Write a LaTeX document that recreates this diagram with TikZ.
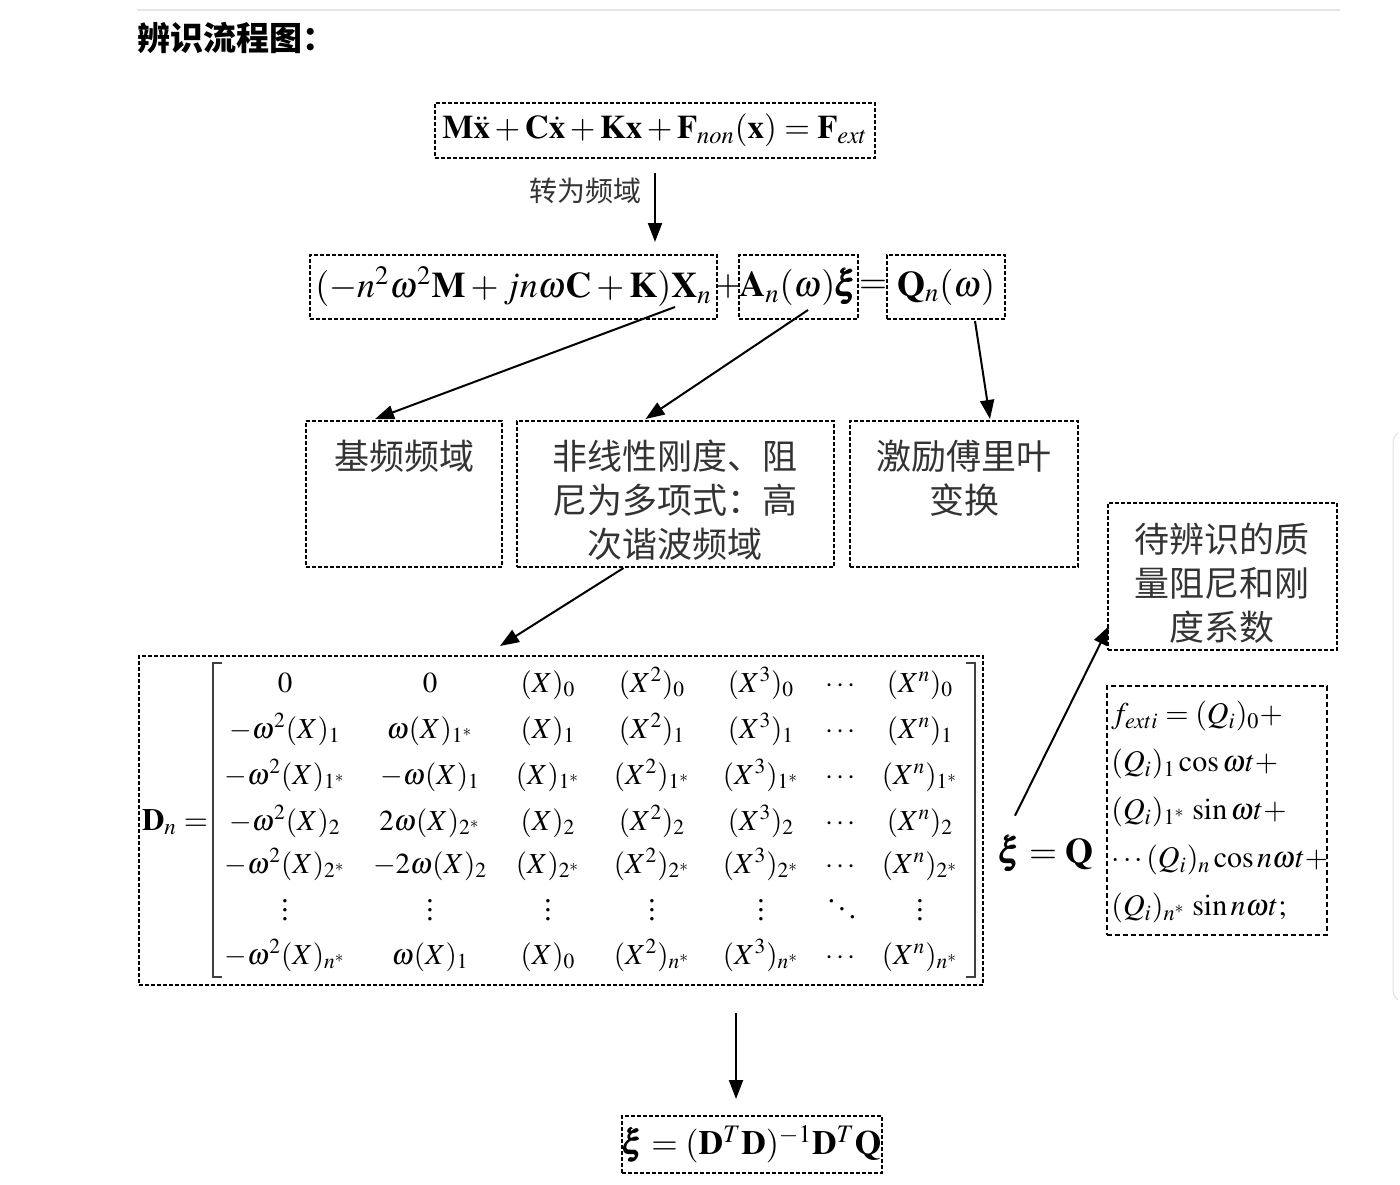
\documentclass[tikz,border=0pt]{standalone}
\usepackage{amsmath}
\usepackage{mathptmx}
\usepackage{fontspec}
\setmainfont{Liberation Serif}
\newfontfamily\cjk{Noto Sans CJK SC}
\usetikzlibrary{arrows.meta,calc}

\newcommand\mrow[8]{%
\node[anchor=base] (m#1-1) at (285,#1) {$#2$};
\node[anchor=base] (m#1-2) at (430,#1) {$#3$};
\node[anchor=base] (m#1-3) at (548,#1) {$#4$};
\node[anchor=base] (m#1-4) at (652,#1) {$#5$};
\node[anchor=base] (m#1-5) at (761,#1) {$#6$};
\node[anchor=base] (m#1-6) at (842,#1) {$#7$};
\node[anchor=base] (m#1-7) at (920,#1) {$#8$};}
\newcommand\vdts{\vbox{\baselineskip4.5pt\lineskiplimit0pt\hbox{.}\hbox{.}\hbox{.}}}
\newcommand\ddts{\mkern1mu\raisebox{9pt}{.}\mkern2mu\raisebox{5pt}{.}\mkern2mu\raisebox{1pt}{.}\mkern1mu}

\begin{document}
\begin{tikzpicture}[x=0.5pt,y=-0.5pt,
  dbox/.style={draw,line width=1pt,dash pattern=on 2pt off 1pt,inner sep=0pt},
  arr/.style={-{Triangle[length=9.5pt,width=7pt]},line width=1pt},
  zh/.style={font=\cjk\fontsize{17.5}{22}\selectfont,text=black!80,align=center},
  eq/.style={font=\fontsize{18}{22}\selectfont}]
\useasboundingbox (0,0) rectangle (1400,1184);
\draw[black!10,line width=0.6pt] (137,10) -- (1340,10);
\draw[black!12,line width=0.5pt,rounded corners=3pt] (1398,433) -- (1393,436) -- (1393,997) -- (1398,1000);

\node[anchor=west,inner sep=0pt,font=\cjk\bfseries\fontsize{16.5}{19}\selectfont] (title) at (137,38) {辨识流程图：};

\node[dbox,font=\fontsize{16.5}{20}\selectfont,minimum width=220pt,minimum height=27.5pt] (eqmotion) at (655,130)
  {$\mathbf{M}\ddot{\mathbf{x}}+\mathbf{C}\dot{\mathbf{x}}+\mathbf{K}\mathbf{x}+\mathbf{F}_{non}(\mathbf{x})=\mathbf{F}_{ext}$};
\node[font=\cjk\fontsize{14}{17}\selectfont,text=black!80] (tofreq) at (585,191) {转为频域};

\node[dbox,eq,minimum width=203.5pt,minimum height=32pt] (kxbox) at (513.5,287)
  {$(-n^2\omega^2\mathbf{M}+jn\omega\mathbf{C}+\mathbf{K})\mathbf{X}_n$};
\node[eq,inner sep=0pt] (plus) at (728,287) {$+$};
\node[dbox,eq,minimum width=59.5pt,minimum height=32pt] (anbox) at (798.5,287)
  {$\mathbf{A}_n(\omega)\pmb{\xi}$};
\node[eq,inner sep=0pt] (equal) at (873,287) {$=$};
\node[dbox,eq,minimum width=59pt,minimum height=32pt] (qbox) at (946,287)
  {$\mathbf{Q}_n(\omega)$};
\draw[arr,shorten <=7pt,shorten >=6pt] (eqmotion.south) -- (eqmotion.south |- kxbox.north);

\node[dbox,minimum width=98pt,minimum height=73pt] (jpbox) at (404,494) {};
\node[zh] (jptext) at (404,456) {基频频域};
\node[dbox,minimum width=158.5pt,minimum height=73pt] (gpbox) at (675.5,494) {};
\node[zh] (gptext) at (675,500) {非线性刚度、阻\\尼为多项式：高\\次谐波频域};
\node[dbox,minimum width=114pt,minimum height=73pt] (fbox) at (964,494) {};
\node[zh] (ftext) at (964,478) {激励傅里叶\\变换};

\coordinate (kxtail) at (675,307);
\coordinate (antail) at (808,310);
\draw[arr] (kxtail) -- ($(jpbox.north)+(-29,-1)$);
\draw[arr] (antail) -- ($(gpbox.north)+(-30,-1)$);
\draw[arr] ($(qbox.south)+(29,1)$) -- ($(fbox.north)+(26,-1)$);

\node[dbox,minimum width=422pt,minimum height=164.5pt] (dbox) at (561,820.5) {};
\draw[arr] ($(gpbox.south)+(-52,0)$) -- ($(dbox.north)+(-61,-9)$);
\node[anchor=base,font=\fontsize{15.5}{19}\selectfont] (dn) at (175,830) {$\mathbf{D}_n=$};
\draw[black!75,line width=1pt] (222,663) -- (213,663) -- (213,977) -- (222,977);
\draw[black!75,line width=1pt] (966,663) -- (975,663) -- (975,977) -- (966,977);
\begin{scope}[font=\fontsize{14.5}{18}\selectfont,inner sep=0pt]
\mrow{692}{0}{0}{(X)_0}{(X^2)_0}{(X^3)_0}{\cdots}{(X^n)_0}
\mrow{738}{-\omega^2(X)_1}{\omega(X)_{1^*}}{(X)_1}{(X^2)_1}{(X^3)_1}{\cdots}{(X^n)_1}
\mrow{784}{-\omega^2(X)_{1^*}}{-\omega(X)_1}{(X)_{1^*}}{(X^2)_{1^*}}{(X^3)_{1^*}}{\cdots}{(X^n)_{1^*}}
\mrow{830}{-\omega^2(X)_2}{2\omega(X)_{2^*}}{(X)_2}{(X^2)_2}{(X^3)_2}{\cdots}{(X^n)_2}
\mrow{873}{-\omega^2(X)_{2^*}}{-2\omega(X)_2}{(X)_{2^*}}{(X^2)_{2^*}}{(X^3)_{2^*}}{\cdots}{(X^n)_{2^*}}
\mrow{920}{\vdts}{\vdts}{\vdts}{\vdts}{\vdts}{\ddts}{\vdts}
\mrow{964}{-\omega^2(X)_{n^*}}{\omega(X)_1}{(X)_0}{(X^2)_{n^*}}{(X^3)_{n^*}}{\cdots}{(X^n)_{n^*}}
\end{scope}

\node[dbox,minimum width=114.5pt,minimum height=73.5pt] (coefbox) at (1222.5,576.5) {};
\node[zh] (coeftext) at (1222,583) {待辨识的质\\量阻尼和刚\\度系数};
\node[dbox,line width=0.75pt,dash pattern=on 2.5pt off 1.5pt,minimum width=110pt,minimum height=124.5pt] (fextbox) at (1217,810.5) {};
\node[anchor=west,align=left,inner sep=0pt,font=\fontsize{15}{24}\selectfont] (fexttext) at (1111,812)
  {$f_{exti}=(Q_i)_0+$\\$(Q_i)_1\cos\omega t+$\\$(Q_i)_{1^*}\,\sin\omega t+$\\$\cdots(Q_i)_n\cos n\omega t+$\\$(Q_i)_{n^*}\,\sin n\omega t;$};
\node[font=\fontsize{18}{22}\selectfont] (xieq) at (1046,853) {$\pmb{\xi}=\mathbf{Q}$};
\draw[arr] ($(xieq.north)+(-31,-12)$) -- ($(coefbox.south west)+(2,-25)$);

\node[dbox,font=\fontsize{17}{21}\selectfont,minimum width=130pt,minimum height=28.5pt] (lsbox) at (752,1144.5)
  {$\pmb{\xi}=(\mathbf{D}^T\mathbf{D})^{-1}\mathbf{D}^T\mathbf{Q}$};
\draw[arr] ($(dbox.south)+(175,27)$) -- ($(lsbox.north)+(-16,-16)$);
\end{tikzpicture}
\end{document}
